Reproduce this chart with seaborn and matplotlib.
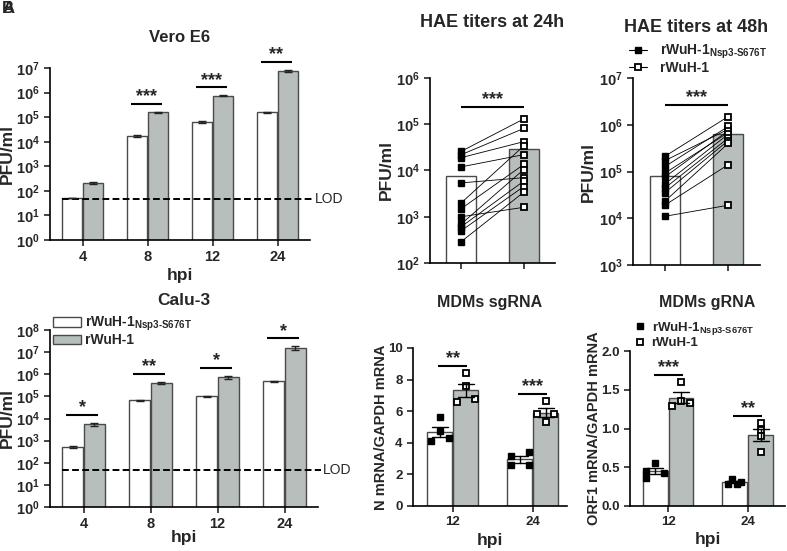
import numpy as np
import pandas as pd
import matplotlib
matplotlib.use('Agg')
import matplotlib.pyplot as plt
import matplotlib.transforms as mtransforms
from matplotlib.patches import Patch
from matplotlib.lines import Line2D
from matplotlib.ticker import NullLocator, FormatStrFormatter
import seaborn as sns

# growth curves (PFU/ml), one mean + SEM per bar
hpi_growth = ['4', '8', '12', '24']
vero_mut = [50, 1.7e4, 6.3e4, 1.6e5]
vero_mut_sem = [0, 1.2e3, 7e3, 8e3]
vero_wt = [210, 1.6e5, 7.4e5, 7.8e6]
vero_wt_sem = [20, 8e3, 4e4, 6e5]
vero_sig = ['', '***', '***', '**']

calu_mut = [520, 6.6e4, 1.0e5, 4.8e5]
calu_mut_sem = [60, 3e3, 8e3, 3e4]
calu_wt = [5500, 4.1e5, 7.4e5, 1.5e7]
calu_wt_sem = [900, 4e4, 1.2e5, 3e6]
calu_sig = ['*', '**', '*', '*']
lod = 45

# HAE paired titers (PFU/ml)
hae24_mut = [26000, 22000, 19000, 12000, 5400, 2000, 1500, 1000, 700, 610, 500, 290]
hae24_wt = [130000, 81000, 42000, 22000, 7000, 34000, 13500, 1600, 10500, 5900, 4500, 3400]
hae48_mut = [210000, 170000, 127000, 92000, 76000, 54000, 44000, 35000, 23000, 19000, 11000]
hae48_wt = [1500000, 800000, 920000, 680000, 750000, 630000, 520000, 460000, 400000, 140000, 19000]

# MDM RNA levels
hpi_mdm = ['12', '24']
sg_mut_12 = [5.61, 4.75, 4.11, 4.28]
sg_mut_24 = [3.42, 3.14, 2.61, 2.61]
sg_wt_12 = [8.40, 7.59, 6.60, 6.75]
sg_wt_24 = [6.64, 5.85, 5.85, 5.30]
sg_sig = ['**', '***']
g_mut_12 = [0.56, 0.45, 0.36, 0.43]
g_mut_24 = [0.29, 0.35, 0.28, 0.31]
g_wt_12 = [1.60, 1.29, 1.36, 1.33]
g_wt_24 = [1.07, 0.98, 0.90, 0.70]
g_sig = ['***', '**']

lab_mut = r'rWuH-1$_{\mathrm{Nsp3}\text{-}\mathrm{S676T}}$'
lab_wt = 'rWuH-1'

sns.set_style('ticks')
plt.rcParams['font.family'] = ['Liberation Sans', 'DejaVu Sans']
plt.rcParams['font.weight'] = 'bold'
plt.rcParams['axes.titleweight'] = 'bold'
plt.rcParams['axes.labelweight'] = 'bold'
plt.rcParams['mathtext.fontset'] = 'custom'
plt.rcParams['mathtext.rm'] = 'Liberation Sans:bold'
plt.rcParams['mathtext.bf'] = 'Liberation Sans:bold'
plt.rcParams['mathtext.it'] = 'Liberation Sans:bold'
plt.rcParams['axes.linewidth'] = 1.2
plt.rcParams['xtick.major.width'] = 1.2
plt.rcParams['ytick.major.width'] = 1.2
plt.rcParams['xtick.major.size'] = 4
plt.rcParams['ytick.major.size'] = 4
plt.rcParams['xtick.labelsize'] = 10.5
plt.rcParams['ytick.labelsize'] = 10.5
plt.rcParams['axes.edgecolor'] = 'black'

GREY = '#b6bfbc'
EDGE = '#4a4a4a'
pal = {'mut': 'white', 'wt': GREY}

W, H = 787, 551
fig = plt.figure(figsize=(W / 100, H / 100), dpi=100)


def px_axes(x0, y0, x1, y1):
    return fig.add_axes([x0 / W, 1 - y1 / H, (x1 - x0) / W, (y1 - y0) / H])


def log_ticks(ax, lo, hi):
    ax.set_yticks([10.0 ** k for k in range(lo, hi + 1)])
    ax.set_yticklabels([f'$10^{{{k}}}$' for k in range(lo, hi + 1)])
    ax.yaxis.set_minor_locator(NullLocator())
    ax.set_ylim(10.0 ** lo, 10.0 ** hi)


def star(ax, x0, x1, y, s, fs=13):
    ax.plot([x0, x1], [y, y], color='black', lw=1.5, clip_on=False, solid_capstyle='butt')
    ax.annotate(s, ((x0 + x1) / 2, y), xytext=(0, -1), textcoords='offset points',
                ha='center', va='bottom', fontsize=fs, annotation_clip=False)


def growth_panel(ax, mut, mut_sem, wt, wt_sem, sig, hi, factor, title, title_pad, title_fs):
    df = pd.DataFrame({'hpi': hpi_growth * 2, 'strain': ['mut'] * 4 + ['wt'] * 4, 'pfu': mut + wt})
    sns.barplot(data=df, x='hpi', y='pfu', hue='strain', order=hpi_growth, hue_order=['mut', 'wt'],
                palette=pal, width=0.64, gap=0.03, edgecolor=EDGE, linewidth=1.0,
                errorbar=None, legend=False, ax=ax)
    ax.set_yscale('log')
    centers = []
    for cont, vals, sems in zip(ax.containers, (mut, wt), (mut_sem, wt_sem)):
        xs = [b.get_x() + b.get_width() / 2 for b in cont]
        centers.append(xs)
        ax.errorbar(xs, vals, yerr=sems, fmt='none', ecolor='#222222', elinewidth=1.0,
                    capsize=3, capthick=1.0, zorder=3)
    for i, s in enumerate(sig):
        if s:
            star(ax, centers[0][i] - 0.1, centers[1][i] + 0.06, (wt[i] + wt_sem[i]) * factor, s)
    ax.axhline(lod, xmin=0.045, xmax=1.01, color='black', ls=(0, (3.5, 1.7)), lw=1.4, clip_on=False)
    trans = mtransforms.blended_transform_factory(ax.transAxes, ax.transData)
    ax.text(1.02, lod, 'LOD', transform=trans, ha='left', va='center', fontsize=10, fontweight='normal')
    log_ticks(ax, 0, hi)
    ax.set_xlim(-0.5, 3.5)
    ax.set_ylabel('PFU/ml', fontsize=12.5)
    ax.set_xlabel('hpi', fontsize=12.5)
    ax.set_title(title, fontsize=title_fs, pad=title_pad)
    sns.despine(ax=ax)


def hae_panel(ax, mut, wt, lo, hi, title, title_pad):
    n = len(mut)
    df = pd.DataFrame({'strain': ['mut'] * n + ['wt'] * len(wt), 'pfu': mut + wt})
    sns.barplot(data=df, x='strain', y='pfu', hue='strain', order=['mut', 'wt'], palette=pal,
                width=0.48, edgecolor=EDGE, linewidth=1.0, errorbar=None, legend=False, ax=ax)
    ax.set_yscale('log')
    for m, w in zip(mut, wt):
        ax.plot([0, 1], [m, w], color='black', lw=0.6, zorder=3)
    ax.plot(np.zeros(n), mut, 's', color='black', ms=5, zorder=4)
    ax.plot(np.ones(len(wt)), wt, 's', mfc='white', mec='black', mew=1.3, ms=5, zorder=4)
    star(ax, 0, 1, max(max(mut), max(wt)) * 1.8, '***')
    log_ticks(ax, lo, hi)
    ax.set_xlim(-0.5, 1.5)
    ax.set_xticks([0, 1])
    ax.set_xticklabels(['', ''])
    ax.set_xlabel('')
    ax.set_ylabel('PFU/ml', fontsize=12.5)
    ax.set_title(title, fontsize=13, pad=title_pad)
    sns.despine(ax=ax)


def mdm_panel(ax, groups, offsets, sig, ymax, step, fmt, ylabel, title, title_pad, dx):
    rows = []
    for strain, (v12, v24) in zip(['mut', 'wt'], groups):
        rows += [('12', strain, v) for v in v12] + [('24', strain, v) for v in v24]
    df = pd.DataFrame(rows, columns=['hpi', 'strain', 'val'])
    sns.barplot(data=df, x='hpi', y='val', hue='strain', order=hpi_mdm, hue_order=['mut', 'wt'],
                palette=pal, width=0.65, gap=0.04, edgecolor=EDGE, linewidth=1.0,
                errorbar='se', capsize=0.4, err_kws={'color': 'black', 'linewidth': 1.0},
                legend=False, ax=ax)
    centers = []
    for k, cont in enumerate(ax.containers):
        xs = [b.get_x() + b.get_width() / 2 for b in cont]
        centers.append(xs)
        for i, vals in enumerate(groups[k]):
            px = xs[i] + np.array(offsets[k][i]) * dx
            if k == 0:
                ax.plot(px, vals, 's', color='black', ms=5, zorder=1.8)
            else:
                ax.plot(px, vals, 's', mfc='white', mec='black', mew=1.3, ms=5, zorder=1.8)
    for i, s in enumerate(sig):
        top = max(max(groups[0][i]), max(groups[1][i]))
        star(ax, centers[0][i] - 0.02, centers[1][i] + 0.02, top + 0.045 * ymax, s)
    ax.set_ylim(0, ymax)
    ax.set_yticks(np.arange(0, ymax + step / 2, step))
    ax.yaxis.set_major_formatter(FormatStrFormatter(fmt))
    ax.tick_params(labelsize=9.5)
    ax.set_ylabel(ylabel, fontsize=10.5)
    ax.set_xlabel('hpi', fontsize=12.5)
    ax.set_title(title, fontsize=11.5, pad=title_pad)
    sns.despine(ax=ax)


# Vero E6
ax1 = px_axes(50, 68, 310, 240)
growth_panel(ax1, vero_mut, vero_mut_sem, vero_wt, vero_wt_sem, vero_sig, 7, 2.1, 'Vero E6', 18.5, 12)
ax1.yaxis.set_label_coords(-0.135, 0.5)
ax1.xaxis.set_label_coords(0.5, -0.16)

# Calu-3
ax2 = px_axes(50, 330, 318, 507)
growth_panel(ax2, calu_mut, calu_mut_sem, calu_wt, calu_wt_sem, calu_sig, 8, 2.3, 'Calu-3', 18, 12.5)
ax2.yaxis.set_label_coords(-0.13, 0.5)
ax2.xaxis.set_label_coords(0.5, -0.13)
ax2.legend(handles=[Patch(facecolor='white', edgecolor=EDGE), Patch(facecolor=GREY, edgecolor=EDGE)],
           labels=[lab_mut, lab_wt], loc='upper left', bbox_to_anchor=(0.011, 1.085), frameon=False,
           fontsize=10, borderpad=0, borderaxespad=0, handlelength=2.0, handleheight=0.7,
           handletextpad=0.3, labelspacing=0.0)

# HAE titers
ax3 = px_axes(430, 78, 555, 263)
hae_panel(ax3, hae24_mut, hae24_wt, 2, 6, 'HAE titers at 24h', 37)
ax3.yaxis.set_label_coords(-0.29, 0.5)

ax4 = px_axes(633, 78, 760, 265)
hae_panel(ax4, hae48_mut, hae48_wt, 3, 7, 'HAE titers at 48h', 33)
ax4.yaxis.set_label_coords(-0.29, 0.5)
ax4.legend(handles=[Line2D([], [], color='black', lw=0.8, marker='s', ms=5),
                    Line2D([], [], color='black', lw=0.8, marker='s', ms=5, mfc='white', mew=1.3)],
           labels=[lab_mut, lab_wt], loc='upper left', bbox_to_anchor=(-0.03, 1.19), frameon=False,
           fontsize=10, borderpad=0, borderaxespad=0, handlelength=1.3, handletextpad=0.9,
           labelspacing=0.0)

# MDMs
ax5 = px_axes(413, 348, 567, 506)
mdm_panel(ax5, [(sg_mut_12, sg_mut_24), (sg_wt_12, sg_wt_24)],
          [([0, 0, -1, 1], [1, -1, -1, 1]), ([0, 0, -1, 1], [0, -1, 1, 0])],
          sg_sig, 10, 2, '%d', 'N mRNA/GAPDH mRNA', 'MDMs sgRNA', 29.5, 0.11)
ax5.set_xlim(-0.5, 1.43)
ax5.yaxis.set_label_coords(-0.16, 0.5)
ax5.xaxis.set_label_coords(0.5, -0.17)

ax6 = px_axes(630, 351, 785, 506)
mdm_panel(ax6, [(g_mut_12, g_mut_24), (g_wt_12, g_wt_24)],
          [([0, -1, -1, 1], [-0.75, -0.33, 0.25, 0.75]), ([0, -1, 0, 1], [0, 0, 0, 0])],
          g_sig, 2.0, 0.5, '%.1f', 'ORF1 mRNA/GAPDH mRNA', 'MDMs gRNA', 31.5, 0.11)
ax6.set_xlim(-0.48, 1.47)
ax6.yaxis.set_label_coords(-0.19, 0.5)
ax6.xaxis.set_label_coords(0.5, -0.17)
ax6.legend(handles=[Line2D([], [], ls='none', color='black', marker='s', ms=5),
                    Line2D([], [], ls='none', color='black', marker='s', ms=5, mfc='white', mew=1.3)],
           labels=[lab_mut, lab_wt], loc='upper left', bbox_to_anchor=(0.02, 1.2), frameon=False,
           fontsize=9.5, borderpad=0, borderaxespad=0, handlelength=1.0, handletextpad=0.4,
           labelspacing=0.0)

fig.text(0.003, 0.998, 'A', fontsize=12, va='top', ha='left')
fig.text(0.003, 0.998, 'B', fontsize=12, va='top', ha='left')

fig.savefig('out.png', dpi=100)
